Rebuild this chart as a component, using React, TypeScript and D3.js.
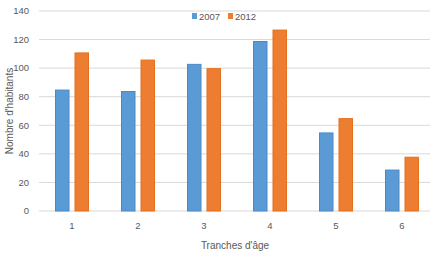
import React from "react";
import * as d3 from "d3";

const categories = ["1", "2", "3", "4", "5", "6"];
const series2007 = [85, 84, 103, 119, 55, 29];
const series2012 = [111, 106, 100, 127, 65, 38];
const seriesNames = ["2007", "2012"];
const yTicks = [0, 20, 40, 60, 80, 100, 120, 140];

const W = 430, H = 260;
const left = 39, right = 435, top = 11, bottom = 211;
const colors = ["#5B9BD5", "#ED7D31"];
const strokes = ["#4A89C8", "#E4701E"];
const font = "'Liberation Sans', Arial, sans-serif";
const textColor = "#595959";

export default function App() {
  const x = d3.scaleBand<string>().domain(categories).range([left, right]);
  const y = d3.scaleLinear().domain([0, 140]).range([bottom, top]);
  const bw = 14.5;
  const gap = 5;
  const data = [series2007, series2012];
  return (
    <svg width={W} height={H} style={{ position: "absolute", left: 0, top: 0, background: "#fff" }}>
      {yTicks.map((t) => (
        <g key={t}>
          <line x1={left} x2={430} y1={y(t)} y2={y(t)} stroke="#D9D9D9" strokeWidth={1} />
          <text x={29} y={y(t)} dy="0.35em" textAnchor="end" fontFamily={font} fontSize={9.5} fill={textColor}>{t}</text>
        </g>
      ))}
      {categories.map((c, i) => {
        const cx = (x(c) as number) + x.bandwidth() / 2;
        return (
          <g key={c}>
            {data.map((s, k) => {
              const bx = k === 0 ? cx - gap / 2 - bw : cx + gap / 2;
              return (
                <rect key={k} x={bx + 0.5} y={y(s[i]) + 0.5} width={bw - 1} height={bottom - y(s[i]) - 0.5}
                  fill={colors[k]} stroke={strokes[k]} strokeWidth={1} />
              );
            })}
            <text x={cx} y={229} textAnchor="middle" fontFamily={font} fontSize={9.5} fill={textColor}>{c}</text>
          </g>
        );
      })}
      <text x={235} y={249} textAnchor="middle" fontFamily={font} fontSize={10} fill={textColor}>Tranches d'âge</text>
      <text transform={`translate(13,${(top + bottom) / 2 + 0}) rotate(-90)`} textAnchor="middle" fontFamily={font} fontSize={10} fill={textColor}>Nombre d'habitants</text>
      {seriesNames.map((n, k) => (
        <g key={n}>
          <rect x={192 + k * 36} y={13} width={5} height={6} fill={colors[k]} />
          <text x={199 + k * 36} y={19.5} fontFamily={font} fontSize={9.5} fill={textColor}>{n}</text>
        </g>
      ))}
    </svg>
  );
}
